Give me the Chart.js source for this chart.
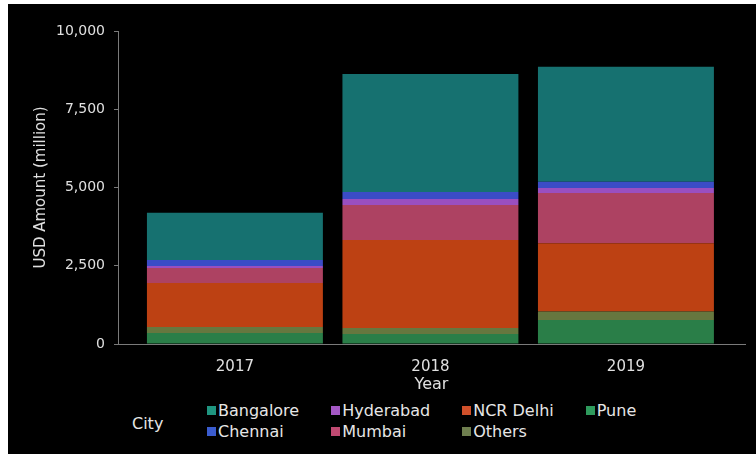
<!DOCTYPE html>
<html>
<head>
<meta charset="utf-8">
<title>Funding by city</title>
<script src="https://cdn.jsdelivr.net/npm/chart.js@4.4.0/dist/chart.umd.min.js"></script>
<style>
  html, body { margin: 0; padding: 0; background: #fff; }
  #panel {
    position: absolute; left: 8px; top: 4px; width: 748px; height: 450px;
    background: #000; overflow: hidden;
    font-family: "DejaVu Sans", sans-serif; color: #e6e6e6;
  }
  #fundingChart { position: absolute; left: 0; top: 0; }
  #legendTitle {
    position: absolute; left: 124px; top: 410px;
    font-size: 16px; line-height: 20px;
  }
  #legend {
    position: absolute; left: 199px; top: 396px;
    display: grid; grid-auto-flow: column; grid-template-rows: 21px 21px;
    column-gap: 32px;
  }
  .item { display: flex; align-items: center; font-size: 16px; line-height: 21px; white-space: nowrap; }
  .swatch { width: 9px; height: 9px; margin-right: 2px; flex: none; }
</style>
</head>
<body>
<div id="panel">
  <canvas id="fundingChart" width="748" height="390"></canvas>
  <div id="legendTitle">City</div>
  <div id="legend"></div>
</div>
<script>
// Years on the x axis
const years = [2017, 2018, 2019];

// Funding per city, USD million
const cities = ['Bangalore', 'Chennai', 'Hyderabad', 'Mumbai', 'NCR Delhi', 'Others', 'Pune'];
const bangalore = [1510, 3770, 3675];
const chennai = [190, 225, 200];
const hyderabad = [65, 190, 160];
const mumbai = [480, 1120, 1605];
const ncrDelhi = [1410, 2810, 2185];
const others = [190, 190, 265];
const pune = [350, 320, 770];

// y axis ticks
const yTicks = [0, 2500, 5000, 7500, 10000];

const cityValues = [bangalore, chennai, hyderabad, mumbai, ncrDelhi, others, pune];
const cityColors = ['#167170', '#3b4cc6', '#9a4fc0', '#ad4262', '#bd4113', '#66773f', '#2a7e48'];
const legendColors = ['#1f9580', '#3a5ccf', '#a458c4', '#c04a72', '#d0502a', '#6f7f4f', '#2e9a5c'];

const axisColor = '#7a7a7a';
const textColor = '#e0e0e0';

// Pune sits at the bottom of each stack, Bangalore on top
const datasets = cities.map((name, i) => ({
  label: name,
  data: years.map((yr, j) => ({ x: yr, y: cityValues[i][j] })),
  backgroundColor: cityColors[i],
  borderWidth: 0,
  barPercentage: 0.9,
  categoryPercentage: 1.0
})).reverse();

const ctx = document.getElementById('fundingChart');
new Chart(ctx, {
  type: 'bar',
  data: { datasets: datasets },
  options: {
    responsive: false,
    animation: false,
    layout: { padding: { top: 27, right: 11, bottom: 0, left: 0 } },
    plugins: {
      legend: { display: false },
      tooltip: { enabled: false }
    },
    scales: {
      x: {
        type: 'linear',
        stacked: true,
        offset: false,
        min: 2016.402,
        max: 2019.609,
        grid: { display: false },
        border: { display: true, color: axisColor, width: 1 },
        ticks: {
          stepSize: 1,
          includeBounds: false,
          padding: 6,
          color: textColor,
          font: { family: 'DejaVu Sans', size: 15 },
          callback: (v) => String(v)
        },
        title: {
          display: true,
          text: 'Year',
          color: textColor,
          font: { family: 'DejaVu Sans', size: 16 },
          padding: { top: 7, bottom: 0 }
        },
        afterFit: (scale) => { scale.height = 50; }
      },
      y: {
        stacked: true,
        min: yTicks[0],
        max: yTicks[yTicks.length - 1],
        afterBuildTicks: (scale) => { scale.ticks = yTicks.map(v => ({ value: v })); },
        grid: {
          drawOnChartArea: false,
          drawTicks: true,
          tickLength: 4,
          color: axisColor
        },
        border: { display: true, color: axisColor, width: 1 },
        ticks: {
          padding: 9,
          color: textColor,
          font: { family: 'DejaVu Sans', size: 14 }
        },
        title: {
          display: true,
          text: 'USD Amount (million)',
          color: textColor,
          font: { family: 'DejaVu Sans', size: 15 },
          padding: { top: 24, bottom: 0 }
        },
        afterFit: (scale) => { scale.width = 110; }
      }
    }
  }
});

// Legend laid out in two rows, filled column by column
const legend = document.getElementById('legend');
cities.forEach((name, i) => {
  const item = document.createElement('div');
  item.className = 'item';
  const sw = document.createElement('span');
  sw.className = 'swatch';
  sw.style.background = legendColors[i];
  const label = document.createElement('span');
  label.textContent = name;
  item.appendChild(sw);
  item.appendChild(label);
  legend.appendChild(item);
});
</script>
</body>
</html>
